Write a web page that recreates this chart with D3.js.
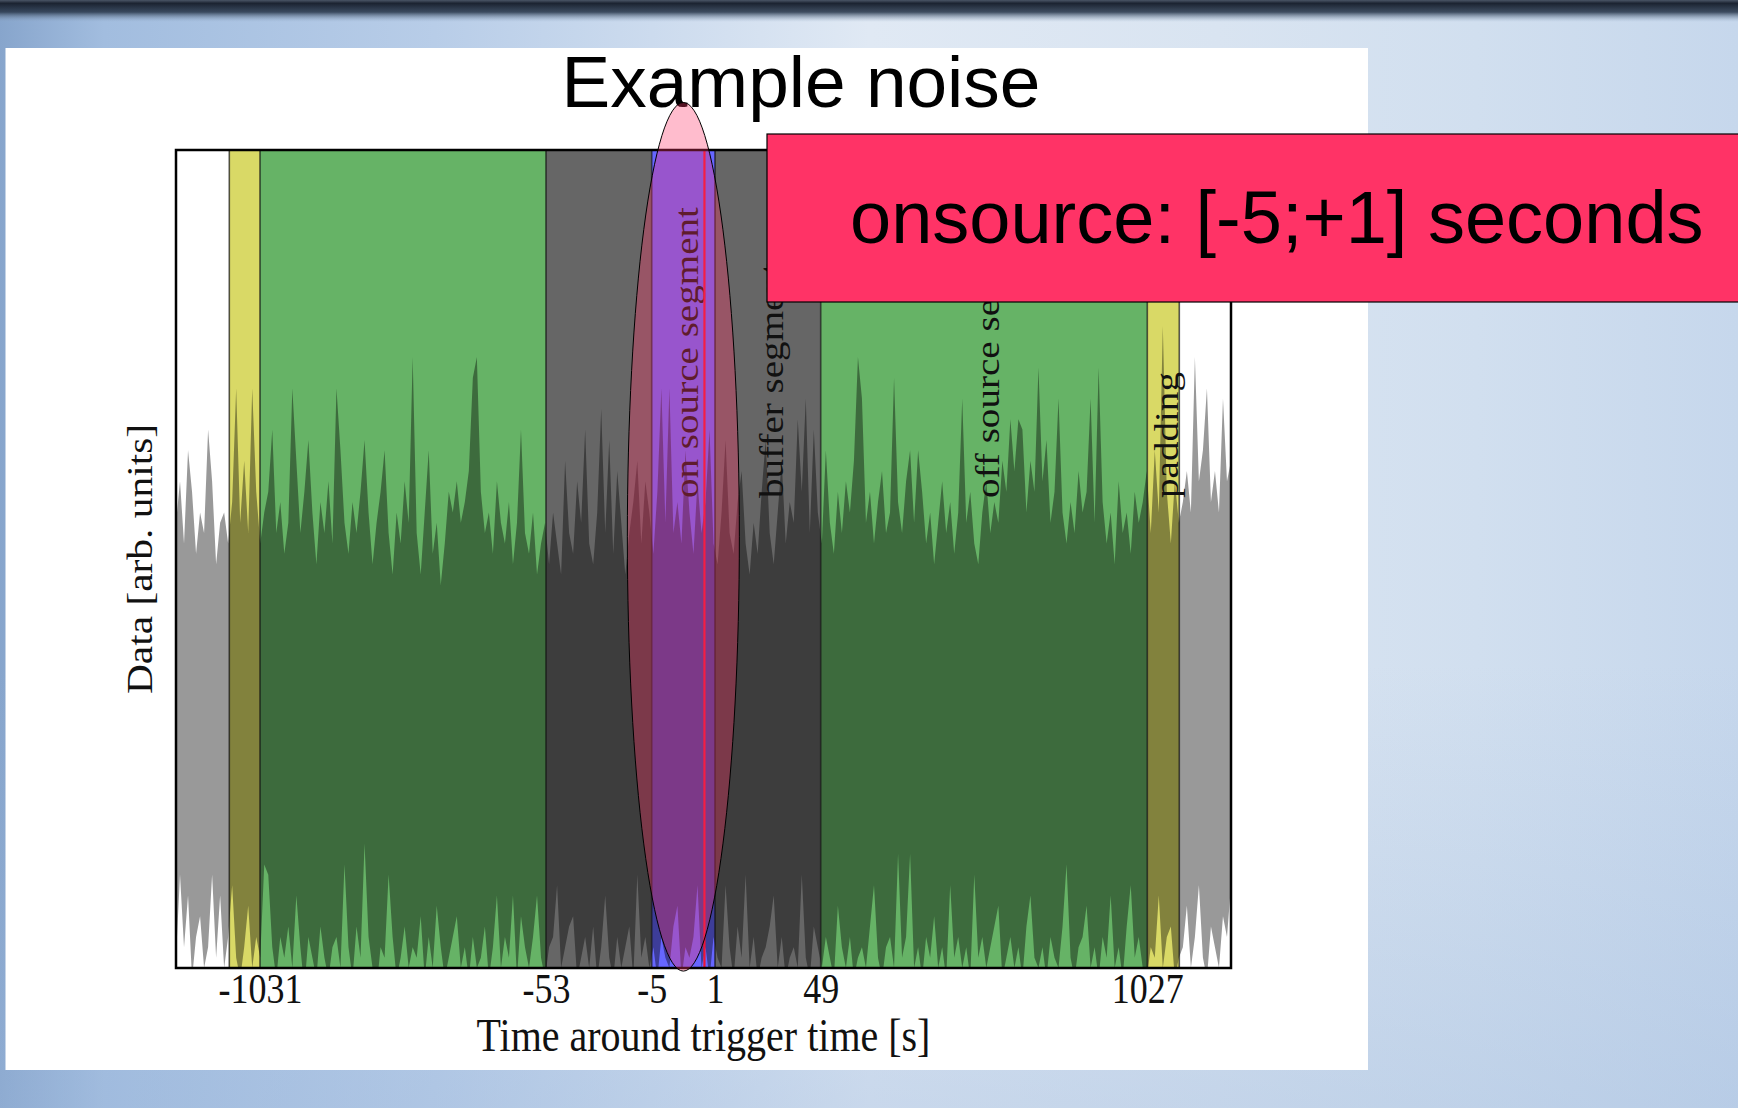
<!DOCTYPE html>
<html>
<head>
<meta charset="utf-8">
<script src="https://cdn.jsdelivr.net/npm/d3@7"></script>
<style>
html, body { margin: 0; padding: 0; overflow: hidden; background: #c9d8ea; }
svg { display: block; }
</style>
</head>
<body>
<script>
'use strict';

// tick labels of the time axis (s)
var tickTimes = [-1031, -53, -5, 1, 49, 1027];
// analysis window segments, seconds around the trigger
var segStart = [-1100, -1039, -1031, -53, -5, 1, 49, 1027, 1035];
var segEnd   = [-1039, -1031, -53, -5, 1, 49, 1027, 1035, 1100];
var segKind  = ['none', 'pad', 'off', 'buf', 'on', 'buf', 'off', 'pad', 'none'];
var segLabel = ['', '', '', '', 'on source segment', 'buffer segment', 'off source segment', 'padding', ''];
var triggerTime = 0;
var onsourceText = 'onsource: [-5;+1] seconds';

// noise trace: upper and lower envelope per sample (arb. units)
var noiseHi = [
  18, 22, 16, 25, 21, 15, 19, 17, 27, 22, 14, 18,
  19, 16, 20, 31, 18, 24, 17, 31, 21, 16, 19, 21,
  27, 17, 20, 15, 18, 31, 24, 17, 21, 26, 19, 14,
  20, 17, 22, 16, 31, 25, 18, 15, 20, 17, 21, 26,
  19, 14, 18, 21, 25, 17, 13, 19, 16, 22, 18, 34,
  17, 13, 19, 25, 15, 18, 12, 16, 21, 19, 22, 18,
  20, 23, 32, 34, 21, 17, 19, 15, 22, 18, 16, 20,
  14, 18, 27, 17, 15, 19, 13, 16, 18, 14, 19, 16,
  13, 24, 17, 15, 22, 18, 27, 16, 14, 19, 29, 17,
  26, 15, 23, 18, 13, 17, 20, 24, 16, 22, 19, 15,
  21, 31, 18, 31, 17, 20, 16, 25, 19, 15, 22, 17,
  20, 27, 16, 14, 19, 26, 17, 15, 20, 23, 16, 13,
  18, 15, 21, 26, 17, 14, 19, 24, 16, 20, 18, 28,
  21, 30, 17, 27, 19, 16, 25, 18, 15, 21, 17, 22,
  19, 24, 34, 30, 18, 21, 16, 20, 23, 17, 19, 32,
  20, 17, 22, 25, 18, 25, 21, 16, 19, 14, 18, 22,
  17, 20, 15, 19, 30, 18, 21, 16, 14, 19, 22, 17,
  20, 18, 24, 21, 28, 23, 28, 27, 19, 24, 21, 33,
  22, 26, 18, 21, 30, 19, 16, 20, 17, 23, 19, 21,
  30, 18, 33, 20, 16, 19, 14, 22, 17, 19, 15, 21,
  18, 20, 23, 17, 25, 19, 37, 21, 16, 22, 18, 20,
  23, 19, 34, 22, 25, 31, 20, 23, 19, 30, 22, 24
];
var noiseLo = [
  -24, -16, -23, -18, -26, -22, -20, -25, -23, -16, -24, -18,
  -25, -22, -17, -24, -26, -23, -19, -25, -22, -24, -15, -16,
  -23, -26, -22, -24, -21, -25, -18, -23, -27, -22, -24, -26,
  -21, -24, -26, -23, -22, -25, -15, -23, -26, -21, -24, -13,
  -22, -25, -27, -23, -24, -16, -22, -26, -24, -21, -25, -23,
  -24, -20, -26, -22, -25, -19, -23, -26, -24, -22, -20, -25,
  -23, -26, -22, -25, -24, -21, -26, -23, -18, -25, -22, -24,
  -18, -26, -20, -23, -25, -22, -18, -24, -26, -23, -22, -17,
  -25, -23, -21, -20, -26, -24, -22, -25, -21, -26, -23, -18,
  -24, -26, -22, -25, -23, -21, -26, -16, -24, -22, -25, -23,
  -26, -22, -24, -25, -21, -19, -26, -23, -24, -22, -17, -25,
  -23, -26, -22, -24, -25, -17, -23, -26, -21, -24, -16, -25,
  -22, -26, -24, -23, -21, -18, -25, -22, -26, -24, -23, -25,
  -16, -24, -26, -21, -23, -25, -22, -24, -26, -19, -23, -25,
  -22, -26, -24, -23, -25, -21, -17, -24, -26, -23, -22, -25,
  -14, -24, -22, -14, -25, -23, -26, -22, -24, -20, -25, -23,
  -26, -17, -24, -22, -25, -23, -26, -16, -24, -22, -25, -23,
  -21, -19, -26, -24, -22, -25, -23, -26, -21, -18, -24, -25,
  -23, -26, -22, -24, -25, -21, -15, -24, -26, -23, -22, -19,
  -25, -23, -26, -22, -24, -18, -25, -23, -26, -21, -17, -24,
  -22, -25, -26, -23, -24, -18, -25, -22, -21, -26, -24, -23,
  -19, -25, -22, -17, -24, -26, -21, -23, -25, -20, -22, -17
];

var width = 1738;
var height = 1108;
var plot = { left: 176, top: 150, width: 1055, height: 818 };
var STRETCH = 1.15; // the chart picture is a bit taller than wide on the slide
var SERIF = '"Liberation Serif", "Times New Roman", serif';
var SANS = '"Liberation Sans", Arial, sans-serif';

var segColor = {
  none: '#fff',
  pad: 'rgb(217,217,102)',
  off: 'rgb(102,179,102)',
  buf: 'rgb(102,102,102)',
  on: 'rgb(102,102,255)'
};

// piecewise time axis: every segment gets its own stretch of pixels
var breakPx = [0, 53.3, 84, 370, 475.7, 539, 644.7, 971.3, 1003.3, 1055];
var x = d3.scaleLinear()
  .domain(segStart.concat([segEnd[segEnd.length - 1]]))
  .range(breakPx);
var y = d3.scaleLinear().domain([-25, 54]).range([plot.height, 0]);
var xi = d3.scaleLinear().domain([0, noiseHi.length - 1]).range([0, plot.width]);

var svg = d3.select('body').append('svg')
  .attr('width', width)
  .attr('height', height);

var defs = svg.append('defs');

var bgGrad = defs.append('linearGradient').attr('id', 'bgGrad')
  .attr('x1', 0).attr('y1', 0).attr('x2', 1).attr('y2', 0);
[[0, '#87a5cc'], [0.06, '#a2bddf'], [0.25, '#b8cde8'], [0.5, '#e0e9f4'],
 [0.7, '#d9e4f1'], [0.85, '#d1dfef'], [1, '#c6d7ec']].forEach(function(s){
  bgGrad.append('stop').attr('offset', s[0]).attr('stop-color', s[1]);
});

var shadeGrad = defs.append('linearGradient').attr('id', 'shadeGrad')
  .attr('x1', 0).attr('y1', 0).attr('x2', 0).attr('y2', 1);
[[0, '#9db8dc', 0], [0.6, '#9db8dc', 0], [1, '#9db8dc', 0.35]].forEach(function(s){
  shadeGrad.append('stop').attr('offset', s[0]).attr('stop-color', s[1]).attr('stop-opacity', s[2]);
});

var topGrad = defs.append('linearGradient').attr('id', 'topGrad')
  .attr('x1', 0).attr('y1', 0).attr('x2', 0).attr('y2', 1);
[[0, '#4a5566', 1], [0.15, '#1b2331', 1], [0.55, '#2d3c50', 0.9], [1, '#8fa6c2', 0]].forEach(function(s){
  topGrad.append('stop').attr('offset', s[0]).attr('stop-color', s[1]).attr('stop-opacity', s[2]);
});

defs.append('clipPath').attr('id', 'plotClip')
  .append('rect').attr('width', plot.width).attr('height', plot.height);

// slide background
svg.append('rect').attr('width', width).attr('height', height).attr('fill', 'url(#bgGrad)');
svg.append('rect').attr('width', width).attr('height', height).attr('fill', 'url(#shadeGrad)');
svg.append('rect').attr('width', width).attr('height', 22).attr('fill', 'url(#topGrad)');

// white picture
svg.append('rect')
  .attr('x', 5.5).attr('y', 48)
  .attr('width', 1362.5).attr('height', 1022)
  .attr('fill', '#fff');

// title
svg.append('text')
  .attr('x', 801).attr('y', 107)
  .attr('text-anchor', 'middle')
  .style('font-family', SANS)
  .style('font-size', '73px')
  .attr('fill', '#000')
  .text('Example noise');

var g = svg.append('g').attr('transform', 'translate(' + plot.left + ',' + plot.top + ')');

// segments
var segs = segStart.map(function(s, i){
  return { start: s, end: segEnd[i], kind: segKind[i], label: segLabel[i] };
});

g.selectAll('rect.seg').data(segs).enter().append('rect')
  .attr('class', 'seg')
  .attr('x', function(d){ return x(d.start); })
  .attr('width', function(d){ return x(d.end) - x(d.start); })
  .attr('y', 0)
  .attr('height', plot.height)
  .attr('fill', function(d){ return segColor[d.kind]; });

// noise
var area = d3.area()
  .x(function(d, i){ return xi(i); })
  .y0(function(d, i){ return y(noiseLo[i]); })
  .y1(function(d){ return y(d); });

g.append('path')
  .datum(noiseHi)
  .attr('clip-path', 'url(#plotClip)')
  .attr('d', area)
  .attr('fill', '#000')
  .attr('fill-opacity', 0.4);

// segment edges
g.selectAll('line.edge').data(segStart.slice(1)).enter().append('line')
  .attr('class', 'edge')
  .attr('x1', function(d){ return x(d); })
  .attr('x2', function(d){ return x(d); })
  .attr('y1', 0).attr('y2', plot.height)
  .attr('stroke', '#111')
  .attr('stroke-opacity', 0.7)
  .attr('stroke-width', 1.6);

// segment names, written upwards
g.selectAll('text.seglabel').data(segs.filter(function(d){ return d.label; })).enter().append('text')
  .attr('class', 'seglabel')
  .attr('transform', function(d){
    var cx = (x(d.start) + x(d.end)) / 2;
    return 'translate(' + cx + ',348) scale(1,' + STRETCH + ') rotate(-90)';
  })
  .attr('dy', '0.44em')
  .style('font-family', SERIF)
  .style('font-size', '34px')
  .attr('fill', '#111')
  .text(function(d){ return d.label; });

// trigger time
g.append('line')
  .attr('x1', x(triggerTime)).attr('x2', x(triggerTime))
  .attr('y1', 0).attr('y2', plot.height)
  .attr('stroke', '#f01434')
  .attr('stroke-width', 2.2);

// frame
g.append('rect')
  .attr('width', plot.width).attr('height', plot.height)
  .attr('fill', 'none')
  .attr('stroke', '#000')
  .attr('stroke-width', 2.5);

// x axis
var axis = g.append('g')
  .attr('transform', 'translate(0,' + plot.height + ')')
  .call(d3.axisBottom(x).tickValues(tickTimes).tickSize(0)
    .tickFormat(function(d){ return String(d); }));
axis.select('.domain').remove();
axis.attr('font-family', SERIF).attr('font-size', 36);
axis.selectAll('text')
  .attr('y', 0).attr('dy', null)
  .attr('transform', 'translate(0,35) scale(1,' + STRETCH + ')')
  .attr('fill', '#111');

g.append('text')
  .attr('transform', 'translate(' + plot.width / 2 + ',' + (plot.height + 83) + ') scale(1,' + STRETCH + ')')
  .attr('text-anchor', 'middle')
  .style('font-family', SERIF)
  .style('font-size', '40px')
  .attr('fill', '#111')
  .text('Time around trigger time [s]');

g.append('text')
  .attr('transform', 'translate(-24,' + plot.height / 2 + ') scale(1,' + STRETCH + ') rotate(-90)')
  .attr('text-anchor', 'middle')
  .style('font-family', SERIF)
  .style('font-size', '36px')
  .attr('fill', '#111')
  .text('Data [arb. units]');

// highlight of the on source window
g.append('ellipse')
  .attr('cx', x(-2))
  .attr('cy', 386.8)
  .attr('rx', 56)
  .attr('ry', 434.3)
  .attr('fill', '#ff3366')
  .attr('fill-opacity', 0.33)
  .attr('stroke', '#000')
  .attr('stroke-width', 1);

// callout box
svg.append('rect')
  .attr('x', 767).attr('y', 134)
  .attr('width', 1000).attr('height', 168)
  .attr('fill', '#ff3366')
  .attr('stroke', '#000')
  .attr('stroke-width', 1.2);

svg.append('text')
  .attr('x', 850).attr('y', 243)
  .style('font-family', SANS)
  .style('font-size', '74px')
  .attr('fill', '#000')
  .text(onsourceText);
</script>
</body>
</html>
